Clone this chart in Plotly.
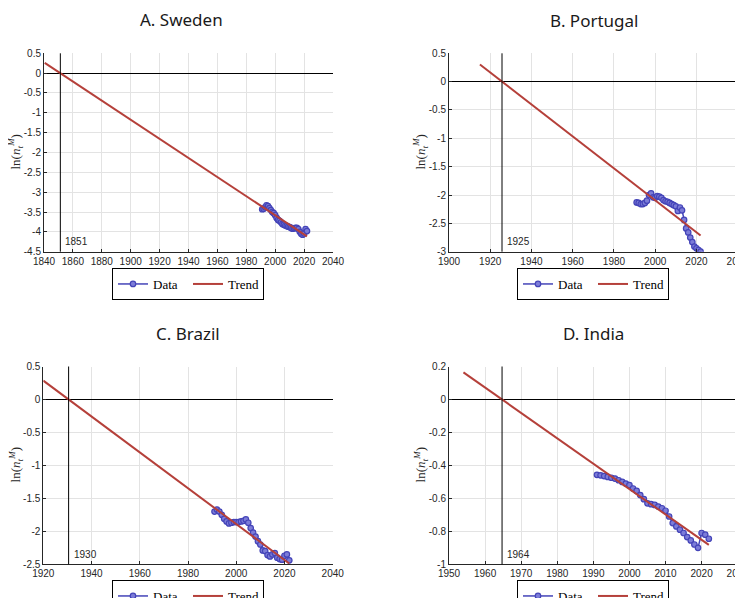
import numpy as np
import plotly.graph_objects as go

years = list(range(1991, 2023))

sweden = [-3.43, -3.42, -3.38, -3.33, -3.35, -3.40, -3.45, -3.50, -3.53, -3.58,
          -3.65, -3.70, -3.72, -3.76, -3.80, -3.82, -3.84, -3.85, -3.87, -3.88,
          -3.90, -3.92, -3.91, -3.90, -3.90, -3.93, -4.00, -4.05, -4.07, -4.04,
          -3.93, -3.98]
portugal = [-2.13, -2.14, -2.16, -2.16, -2.14, -2.10, -2.00, -1.97, -2.04, -2.05,
            -2.02, -2.03, -2.05, -2.09, -2.11, -2.12, -2.14, -2.16, -2.18, -2.20,
            -2.28, -2.22, -2.27, -2.44, -2.59, -2.66, -2.75, -2.83, -2.91, -2.94,
            -2.97, -3.00]
brazil = [-1.70, -1.67, -1.70, -1.75, -1.81, -1.85, -1.88, -1.87, -1.86, -1.86,
          -1.86, -1.85, -1.84, -1.82, -1.87, -1.95, -2.02, -2.08, -2.15, -2.20,
          -2.29, -2.30, -2.36, -2.38, -2.35, -2.33, -2.40, -2.42, -2.43, -2.37,
          -2.35, -2.44]
india = [-0.457, -0.46, -0.465, -0.47, -0.475, -0.48, -0.49, -0.50, -0.51, -0.52,
         -0.54, -0.555, -0.58, -0.605, -0.63, -0.635, -0.64, -0.65, -0.66, -0.675,
         -0.71, -0.75, -0.77, -0.79, -0.81, -0.835, -0.855, -0.88, -0.90, -0.81,
         -0.82, -0.845]

titles = ["A. Sweden", "B. Portugal", "C. Brazil", "D. India"]
series = [sweden, portugal, brazil, india]
zero_year = [1851.3, 1925.7, 1930.5, 1964.7]
zero_label = ["1851", "1925", "1930", "1964"]
trend_slope = [-0.0241, -0.0282, -0.0272, -0.0154]
trend_start = [1840.5, 1915.0, 1920.0, 1954.0]
trend_end = [2022.0, 2022.0, 2022.0, 2022.0]

x_ranges = [[1840, 2040], [1900, 2040], [1920, 2040], [1950, 2030]]
x_dticks = [20, 20, 20, 10]
y_ranges = [[-4.5, 0.5], [-3, 0.5], [-2.5, 0.5], [-1, 0.2]]
y_ticks = [
    [0.5, 0, -0.5, -1, -1.5, -2, -2.5, -3, -3.5, -4, -4.5],
    [0.5, 0, -0.5, -1, -1.5, -2, -2.5, -3],
    [0.5, 0, -0.5, -1, -1.5, -2, -2.5],
    [0.2, 0, -0.2, -0.4, -0.6, -0.8, -1],
]
y_ticktext = [
    ["0.5", "0", "-0.5", "-1", "-1.5", "-2", "-2.5", "-3", "-3.5", "-4", "-4.5"],
    ["0.5", "0", "-0.5", "-1", "-1.5", "-2", "-2.5", "-3"],
    ["0.5", "0", "-0.5", "-1", "-1.5", "-2", "-2.5"],
    ["0.2", "0", "-0.2", "-0.4", "-0.6", "-0.8", "-1"],
]

# page body has an 8px margin; figure is sized so that it fills the window
OFF = 8
W, H = 743 - OFF, 598 - OFF
# plot-area pixel boxes in window coords (left, right, top, bottom)
boxes = [(44, 333, 53.3, 251.7), (449, 737.7, 53.3, 251.7),
         (43.3, 332.7, 366.5, 564.3), (449, 737.7, 366.5, 564.3)]
title_pos = [(181, 19), (594, 20), (188, 333), (593, 333)]
legend_pos = [(188, 268), (593, 268), (188, 580), (593, 580)]
ylabel_x = [16, 421, 16, 421]


def px(x):
    return (x - OFF) / W


def py(y):
    return 1 - (y - OFF) / H


DATA_C = "#4444b8"
TREND_C = "#b5403a"
AX_C = "#262626"
GRID_C = "#e3e3e3"

fig = go.Figure()
annotations = []
shapes = []

for i in range(4):
    n = "" if i == 0 else str(i + 1)
    xa, ya = "x" + n, "y" + n
    lg = "legend" if i == 0 else "legend" + str(i + 1)
    l, r, t, b = boxes[i]
    fig.add_trace(go.Scatter(
        x=years, y=series[i], mode="lines+markers", name="Data",
        xaxis=xa, yaxis=ya, legend=lg,
        line=dict(color=DATA_C, width=1.5),
        marker=dict(symbol="circle", size=5.5, color="#7c7cd8",
                    line=dict(color=DATA_C, width=1.2)),
    ))
    tx = np.array([trend_start[i], trend_end[i]])
    ty = trend_slope[i] * (tx - zero_year[i])
    fig.add_trace(go.Scatter(
        x=tx, y=ty, mode="lines", name="Trend",
        xaxis=xa, yaxis=ya, legend=lg,
        line=dict(color=TREND_C, width=2),
    ))
    axis_common = dict(
        showgrid=True, gridcolor=GRID_C, gridwidth=1,
        showline=True, linecolor=AX_C, linewidth=1,
        ticks="inside", ticklen=3, tickcolor=AX_C,
        tickfont=dict(family="Liberation Sans, Arial", size=10, color=AX_C),
        ticklabeloverflow="allow",
    )
    fig.layout["xaxis" + n] = dict(
        axis_common, domain=[px(l), px(r)], range=x_ranges[i],
        dtick=x_dticks[i], tick0=0, anchor=ya, zeroline=False,
    )
    fig.layout["yaxis" + n] = dict(
        axis_common, domain=[py(b), py(t)], range=y_ranges[i],
        tickvals=y_ticks[i], ticktext=y_ticktext[i], anchor=xa,
        zeroline=True, zerolinecolor="#000000", zerolinewidth=1,
    )
    fig.layout[lg] = dict(
        x=px(legend_pos[i][0]), y=py(legend_pos[i][1]),
        xanchor="center", yanchor="top", orientation="h",
        bordercolor="#000000", borderwidth=1, bgcolor="#ffffff",
        font=dict(family="Liberation Serif, Times New Roman", size=13, color="#000000"),
        itemwidth=30, tracegroupgap=0,
        entrywidth=30, entrywidthmode="pixels",
    )
    shapes.append(dict(type="line", xref=xa, yref=ya + " domain",
                       x0=zero_year[i], x1=zero_year[i], y0=0, y1=1,
                       line=dict(color="#000000", width=1)))
    annotations.append(dict(xref=xa, yref=ya + " domain", x=zero_year[i], y=0.05,
                            text=zero_label[i], showarrow=False, xanchor="left",
                            yanchor="middle", xshift=3,
                            font=dict(family="Liberation Sans, Arial", size=10, color=AX_C)))
    annotations.append(dict(xref="paper", yref="paper", x=px(title_pos[i][0]),
                            y=py(title_pos[i][1]), text=titles[i], showarrow=False,
                            xanchor="center", yanchor="middle",
                            font=dict(family="Noto Sans", size=17, color="#1a1a1a")))
    annotations.append(dict(xref="paper", yref="paper", x=px(ylabel_x[i]),
                            y=py((t + b) / 2),
                            text="ln(<i>n</i><sub><i>t</i></sub><sup><i>M</i></sup>)",
                            showarrow=False, textangle=-90, xanchor="center",
                            yanchor="middle",
                            font=dict(family="Liberation Serif, Times New Roman",
                                      size=13, color=AX_C)))

fig.update_layout(
    width=W, height=H,
    margin=dict(l=0, r=0, t=0, b=0, autoexpand=False),
    paper_bgcolor="#ffffff", plot_bgcolor="#ffffff",
    showlegend=True, annotations=annotations, shapes=shapes,
)

fig.write_html("out.html")
